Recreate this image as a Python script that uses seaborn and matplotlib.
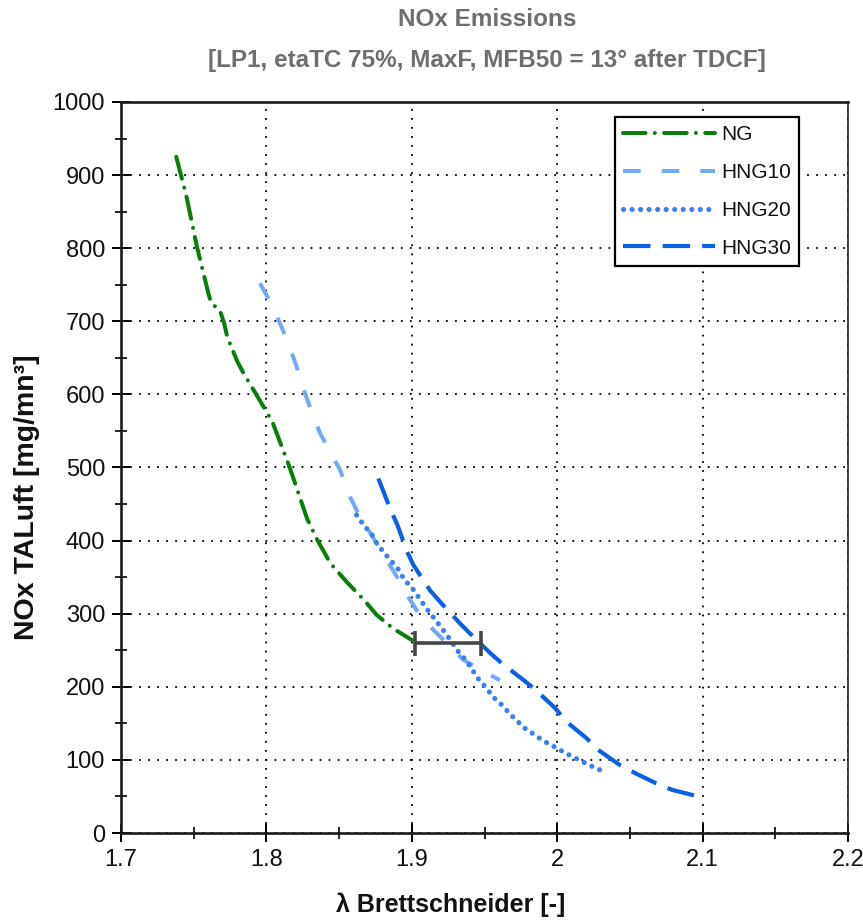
import matplotlib
matplotlib.use("Agg")
import matplotlib.pyplot as plt
from matplotlib.ticker import MultipleLocator
import seaborn as sns
import pandas as pd

# ---------------- data ----------------
ng_x = [1.738, 1.745, 1.752, 1.760, 1.762, 1.768, 1.771, 1.773, 1.780, 1.784, 1.793,
        1.804, 1.816, 1.828, 1.835, 1.844, 1.855, 1.867, 1.876, 1.887, 1.900]
ng_y = [925, 871, 804, 739, 725, 715, 697, 679, 645, 630, 600,
        563, 500, 430, 401, 369, 344, 319, 298, 280, 264]

hng10_x = [1.7956, 1.8025, 1.8094, 1.8151, 1.8208, 1.8254, 1.8311, 1.8369, 1.8449,
           1.8506, 1.8575, 1.8632, 1.8759, 1.8896, 1.8965, 1.9056, 1.9148, 1.9263,
           1.9354, 1.9492, 1.9607]
hng10_y = [752, 727, 697, 670, 638, 608, 576, 547, 517,
           497, 460, 437, 396, 351, 326, 298, 278, 255,
           237, 221, 209]

hng20_x = [1.862, 1.867, 1.872, 1.876, 1.881, 1.886, 1.891, 1.895, 1.900, 1.909,
           1.918, 1.923, 1.932, 1.937, 1.946, 1.951, 1.956, 1.962, 1.967, 1.972,
           1.978, 1.984, 1.989, 1.995, 2.000, 2.005, 2.011, 2.017, 2.022, 2.027, 2.030]
hng20_y = [435, 421, 410, 396, 383, 372, 360, 346, 336, 310,
           287, 274, 248, 237, 210, 199, 186, 175, 164, 154,
           143, 135, 128, 121, 116, 110, 104, 98, 93, 88, 86]

hng30_x = [1.877, 1.885, 1.890, 1.8965, 1.901, 1.9125, 1.920, 1.933, 1.940, 1.954,
           1.962, 1.977, 1.985, 1.9985, 2.0065, 2.020, 2.028, 2.043, 2.0535, 2.068,
           2.079, 2.097, 2.100]
hng30_y = [485, 444, 422, 386, 367, 332, 315, 287, 273, 246,
           232, 209, 196, 171, 152, 130, 114, 93, 82, 68,
           59, 50, 48]

err_x = [1.925]
err_y = [260]
err_half = [0.0225]

series_names = ["NG", "HNG10", "HNG20", "HNG30"]
title_lines = ["NOx Emissions", "[LP1, etaTC 75%, MaxF, MFB50 = 13° after TDCF]"]
x_label = "λ Brettschneider [-]"
y_label = "NOx TALuft [mg/mn³]"
x_ticks = [1.7, 1.8, 1.9, 2.0, 2.1, 2.2]
x_ticklabels = ["1.7", "1.8", "1.9", "2", "2.1", "2.2"]
y_ticks = [0, 100, 200, 300, 400, 500, 600, 700, 800, 900, 1000]

# ---------------- style ----------------
sns.set_theme(style="white")
plt.rcParams["font.family"] = ["Liberation Sans", "DejaVu Sans"]

fig = plt.figure(figsize=(8.63, 9.22), dpi=100)
ax = fig.add_axes([121 / 863, 1 - 833 / 922, 727 / 863, 731 / 922])

frames = [
    (series_names[0], ng_x, ng_y),
    (series_names[1], hng10_x, hng10_y),
    (series_names[2], hng20_x, hng20_y),
    (series_names[3], hng30_x, hng30_y),
]
styles = {
    "NG": dict(color="#0a7d0a", lw=2.9, dashes=(5.6, 2.3, 0.01, 2.3), cap="round"),
    "HNG10": dict(color="#74a9f6", lw=2.9, dashes=(4.4, 5.2), cap="butt"),
    "HNG20": dict(color="#3a80f0", lw=3.7, dashes=(0.01, 1.65), cap="round"),
    "HNG30": dict(color="#0b5fe6", lw=3.0, dashes=(6.6, 2.9), cap="butt"),
}

handles = []
for name, xs, ys in frames:
    df = pd.DataFrame({"lam": xs, "nox": ys})
    st = styles[name]
    sns.lineplot(data=df, x="lam", y="nox", ax=ax, sort=False, estimator=None,
                 color=st["color"], lw=st["lw"], label=name, zorder=3)
    line = ax.lines[-1]
    line.set_dashes(st["dashes"])
    line.set_dash_capstyle(st["cap"])
    handles.append(line)

ax.errorbar(err_x, err_y, xerr=err_half, fmt="none", ecolor="#454545",
            elinewidth=2.6, capsize=9, capthick=2.6, zorder=4)

ax.set_xlim(1.7, 2.2)
ax.set_ylim(0, 1000)
ax.set_xticks(x_ticks)
ax.set_xticklabels(x_ticklabels)
ax.set_yticks(y_ticks)
ax.xaxis.set_minor_locator(MultipleLocator(0.05))
ax.yaxis.set_minor_locator(MultipleLocator(50))
ax.tick_params(axis="both", which="major", direction="inout", length=13, width=1.4,
               color="black", labelsize=17, pad=5, bottom=True, left=True,
               labelcolor="#111111")
ax.tick_params(axis="both", which="minor", direction="inout", length=8, width=1.2,
               color="black", bottom=True, left=True)

ax.grid(True, which="major", color="black", linestyle=(0, (1, 4)), linewidth=1.3)
ax.set_axisbelow(True)

for side in ["left", "bottom", "top"]:
    ax.spines[side].set_linewidth(1.9)
    ax.spines[side].set_color("#1a1a1a")
ax.spines["right"].set_linewidth(1.2)
ax.spines["right"].set_color("#222222")

ax.set_xlabel(x_label, fontsize=18, fontweight="bold", color="#111111")
ax.xaxis.set_label_coords((451 - 121) / 727, (833 - 905) / 731)
ax.xaxis.label.set_va("center")
ax.set_ylabel(y_label, fontsize=20.5, fontweight="bold", color="#111111")
ax.yaxis.set_label_coords((27 - 121) / 727, (833 - 497) / 731)
ax.yaxis.label.set_va("center")

fig.text(487 / 863, 1 - 19 / 922, title_lines[0], ha="center", va="center",
         fontsize=17.5, fontweight="bold", color="#6e6e6e")
fig.text(487 / 863, 1 - 61 / 922, title_lines[1], ha="center", va="center",
         fontsize=17.5, fontweight="bold", color="#6e6e6e")

leg = ax.legend(handles=handles, labels=series_names, loc="upper right",
                bbox_to_anchor=((799 - 121) / 727, (833 - 117) / 731),
                borderaxespad=0, fontsize=15, frameon=True, fancybox=False,
                framealpha=1, edgecolor="black", handlelength=4.4,
                handletextpad=0.3, labelspacing=0.9, borderpad=0.4)
leg.get_frame().set_linewidth(1.6)
for t in leg.get_texts():
    t.set_color("#111111")

fig.savefig("out.png", dpi=100)
